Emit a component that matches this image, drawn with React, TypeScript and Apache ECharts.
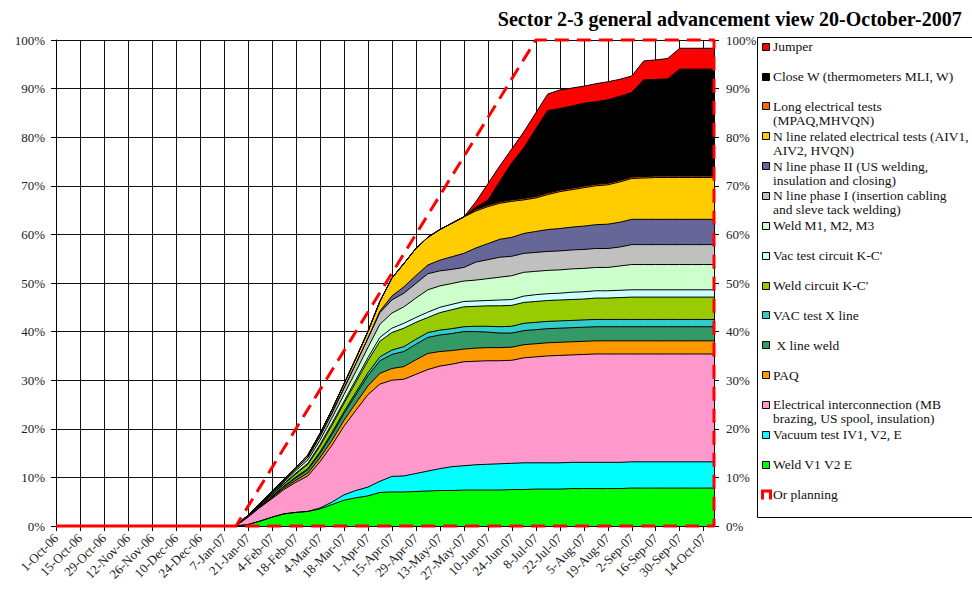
import React, { useEffect, useRef } from 'react';
import * as echarts from 'echarts';

// Day offsets from 1-Oct-06 (weekly reporting points, last = 20-Oct-07)
const dayOffsets = [0, 105, 112, 119, 126, 133, 140, 147, 154, 161, 168, 175, 182, 189, 196, 203, 210, 217, 224, 231, 238, 245, 252, 259, 266, 273, 280, 287, 294, 301, 308, 315, 322, 329, 336, 343, 350, 357, 364, 371, 378, 384];

// Tick labels every 14 days
const tickLabels = ['1-Oct-06', '15-Oct-06', '29-Oct-06', '12-Nov-06', '26-Nov-06', '10-Dec-06', '24-Dec-06', '7-Jan-07', '21-Jan-07', '4-Feb-07', '18-Feb-07', '4-Mar-07', '18-Mar-07', '1-Apr-07', '15-Apr-07', '29-Apr-07', '13-May-07', '27-May-07', '10-Jun-07', '24-Jun-07', '8-Jul-07', '22-Jul-07', '5-Aug-07', '19-Aug-07', '2-Sep-07', '16-Sep-07', '30-Sep-07', '14-Oct-07'];

// Series values (percent contribution), bottom of the stack first
const weldV1 = [0, 0, 0.3, 1.0, 1.8, 2.5, 2.8, 3.0, 3.5, 4.4, 5.3, 5.8, 6.2, 6.9, 7.0, 7.0, 7.1, 7.2, 7.3, 7.3, 7.4, 7.4, 7.4, 7.4, 7.5, 7.5, 7.6, 7.6, 7.6, 7.7, 7.7, 7.7, 7.7, 7.7, 7.8, 7.8, 7.8, 7.8, 7.8, 7.8, 7.8, 7.8];
const vacuumIV = [0, 0, 0, 0, 0, 0, 0, 0, 0.2, 0.5, 1.1, 1.5, 1.8, 2.3, 3.2, 3.3, 3.7, 4.1, 4.5, 4.9, 5.0, 5.2, 5.3, 5.4, 5.4, 5.5, 5.4, 5.4, 5.4, 5.4, 5.4, 5.4, 5.4, 5.4, 5.4, 5.4, 5.4, 5.4, 5.4, 5.4, 5.4, 5.4];
const elecInter = [0, 0, 1.5, 2.8, 3.8, 5.0, 6.2, 7.3, 9.5, 11.7, 14.1, 16.5, 19.0, 20.0, 19.8, 19.9, 20.4, 20.9, 21.1, 21.1, 21.4, 21.3, 21.3, 21.2, 21.2, 21.6, 21.8, 22.0, 22.1, 22.1, 22.2, 22.3, 22.3, 22.3, 22.2, 22.2, 22.2, 22.2, 22.2, 22.2, 22.2, 22.2];
const paq = [0, 0, 0.1, 0.1, 0.2, 0.3, 0.4, 0.6, 0.8, 1.0, 1.2, 1.5, 1.8, 2.2, 2.4, 2.6, 3.0, 3.3, 3.0, 2.8, 2.6, 2.7, 2.7, 2.7, 2.7, 2.7, 2.7, 2.7, 2.7, 2.7, 2.7, 2.7, 2.7, 2.7, 2.7, 2.7, 2.7, 2.7, 2.7, 2.7, 2.7, 2.7];
const xLineWeld = [0, 0, 0.1, 0.2, 0.2, 0.3, 0.5, 0.7, 0.9, 1.2, 1.4, 1.7, 2.1, 2.6, 2.9, 3.1, 3.2, 3.3, 3.4, 3.5, 3.6, 3.4, 3.2, 3.0, 2.9, 2.9, 2.9, 2.9, 2.9, 2.9, 2.9, 2.9, 2.9, 2.9, 2.9, 2.9, 2.9, 2.9, 2.9, 2.9, 2.9, 2.9];
const vacXLine = [0, 0, 0, 0, 0.1, 0.1, 0.2, 0.2, 0.3, 0.4, 0.4, 0.5, 0.6, 0.8, 0.9, 1.0, 1.0, 1.0, 1.0, 1.0, 1.0, 1.1, 1.2, 1.3, 1.4, 1.5, 1.5, 1.5, 1.5, 1.5, 1.5, 1.5, 1.5, 1.5, 1.5, 1.5, 1.5, 1.5, 1.5, 1.5, 1.5, 1.5];
const weldKC = [0, 0, 0.1, 0.2, 0.3, 0.4, 0.6, 0.9, 1.2, 1.5, 1.7, 2.1, 2.5, 3.2, 3.6, 3.8, 3.5, 3.1, 3.6, 3.9, 4.1, 4.1, 4.2, 4.3, 4.3, 4.3, 4.3, 4.3, 4.3, 4.3, 4.3, 4.4, 4.4, 4.5, 4.6, 4.6, 4.6, 4.6, 4.6, 4.6, 4.6, 4.6];
const vacKC = [0, 0, 0, 0.1, 0.1, 0.1, 0.2, 0.2, 0.3, 0.4, 0.4, 0.5, 0.6, 0.8, 0.9, 1.0, 1.0, 1.1, 1.1, 1.1, 1.1, 1.1, 1.1, 1.2, 1.2, 1.3, 1.4, 1.4, 1.4, 1.5, 1.5, 1.5, 1.5, 1.5, 1.5, 1.5, 1.5, 1.5, 1.5, 1.5, 1.5, 1.5];
const weldM = [0, 0, 0.1, 0.1, 0.2, 0.3, 0.5, 0.7, 0.9, 1.1, 1.4, 1.7, 2.1, 2.7, 3.1, 3.4, 4.0, 4.6, 4.4, 4.3, 4.2, 4.3, 4.5, 4.7, 4.9, 4.9, 4.8, 4.8, 4.8, 4.8, 4.8, 4.8, 4.8, 5.0, 5.2, 5.2, 5.2, 5.2, 5.2, 5.2, 5.2, 5.2];
const nPhase1 = [0, 0, 0, 0.1, 0.2, 0.3, 0.4, 0.6, 0.8, 1.0, 1.3, 1.6, 1.9, 2.4, 2.7, 2.8, 3.0, 3.3, 3.1, 2.9, 2.8, 3.7, 3.9, 4.1, 4.0, 3.9, 3.9, 3.9, 3.9, 3.9, 3.9, 3.9, 3.9, 3.9, 4.1, 4.1, 4.1, 4.1, 4.1, 4.1, 4.1, 4.1];
const nPhase2 = [0, 0, 0, 0, 0, 0, 0, 0, 0, 0, 0, 0, 0, 0.3, 0.8, 1.3, 1.6, 1.8, 2.2, 2.6, 2.9, 2.9, 3.3, 3.7, 3.9, 4.1, 4.3, 4.5, 4.6, 4.7, 4.8, 4.9, 5.0, 5.1, 5.2, 5.2, 5.2, 5.2, 5.2, 5.2, 5.2, 5.2];
const nLineElec = [0, 0, 0, 0.1, 0.2, 0.3, 0.3, 0.4, 0.6, 0.7, 0.9, 1.1, 1.4, 2.0, 3.7, 4.8, 5.6, 5.7, 6.3, 6.9, 7.5, 7.6, 7.6, 7.4, 7.4, 6.9, 6.9, 7.2, 7.6, 7.7, 7.9, 8.0, 8.1, 8.3, 8.4, 8.5, 8.6, 8.6, 8.6, 8.6, 8.6, 8.6];
const longElec = [0, 0, 0, 0, 0, 0, 0, 0, 0, 0, 0, 0, 0, 0, 0, 0, 0, 0, 0, 0, 0, 0.3, 0.3, 0.3, 0.3, 0.3, 0.3, 0.3, 0.3, 0.3, 0.3, 0.3, 0.3, 0.3, 0.3, 0.3, 0.3, 0.3, 0.3, 0.3, 0.3, 0.3];
const closeW = [0, 0, 0, 0, 0, 0, 0, 0, 0, 0, 0, 0, 0, 0, 0, 0, 0, 0, 0, 0, 0, 0.5, 1.0, 4.2, 7.6, 10.4, 13.9, 17.0, 16.8, 16.9, 17.1, 17.0, 17.2, 17.3, 17.4, 19.9, 19.9, 20.0, 22.0, 22.0, 22.0, 22.0];
const jumper = [0, 0, 0, 0, 0, 0, 0, 0, 0, 0, 0, 0, 0, 0, 0, 0, 0, 0, 0, 0, 0, 1.1, 3.4, 3.2, 2.9, 3.3, 3.3, 3.4, 3.8, 3.7, 3.5, 3.7, 3.7, 3.5, 3.4, 3.9, 4.0, 4.2, 4.3, 4.3, 4.3, 4.3];

// Planning outline (secondary axis), traced as the closed area border
const planDays = [0, 105, 280, 384, 384, 0];
const planValues = [0, 0, 100, 100, 0, 0];

const stackNames = [
  'Weld V1 V2 E',
  'Vacuum test IV1, V2, E',
  'Electrical interconnection (MB brazing, US spool, insulation)',
  'PAQ',
  ' X line weld',
  'VAC test X line',
  "Weld circuit K-C'",
  "Vac test circuit K-C'",
  'Weld M1, M2, M3',
  'N line phase I (insertion cabling and sleve tack welding)',
  'N line phase II (US welding, insulation and closing)',
  'N line related electrical tests (AIV1, AIV2, HVQN)',
  'Long electrical tests (MPAQ,MHVQN)',
  'Close W (thermometers MLI, W)',
  'Jumper',
];
const stackColors = ['#00FF00', '#00FFFF', '#FF99CC', '#FF9900', '#339966', '#33CCCC', '#99CC00', '#CCFFFF', '#CCFFCC', '#C0C0C0', '#666699', '#FFCC00', '#FF6600', '#000000', '#FF0000'];
const stackValues = [weldV1, vacuumIV, elecInter, paq, xLineWeld, vacXLine, weldKC, vacKC, weldM, nPhase1, nPhase2, nLineElec, longElec, closeW, jumper];

// Legend texts, top to bottom (as wrapped in the picture)
const legendLabels = [
  'Jumper',
  'Close W (thermometers MLI, W)',
  'Long electrical tests\n(MPAQ,MHVQN)',
  'N line related electrical tests (AIV1,\nAIV2, HVQN)',
  'N line phase II (US welding,\ninsulation and closing)',
  'N line phase I (insertion cabling\nand sleve tack welding)',
  'Weld M1, M2, M3',
  "Vac test circuit K-C'",
  "Weld circuit K-C'",
  'VAC test X line',
  ' X line weld',
  'PAQ',
  'Electrical interconnection (MB\nbrazing, US spool, insulation)',
  'Vacuum test IV1, V2, E',
  'Weld V1 V2 E',
  'Or planning',
];

const FONT = '"Liberation Serif", "Times New Roman", serif';

function buildOption() {
  // cumulative tops (what a stack computes)
  const cum: number[][] = [];
  stackValues.forEach((vals, k) => {
    cum.push(vals.map((v, i) => +(v + (k > 0 ? cum[k - 1][i] : 0)).toFixed(2)));
  });

  const series: any[] = [];
  // draw the top layer first so lower layers paint over it
  for (let k = stackValues.length - 1; k >= 0; k--) {
    series.push({
      type: 'line',
      name: stackNames[k],
      data: dayOffsets.map((d, i) => [d, cum[k][i]]),
      symbol: 'none',
      silent: true,
      lineStyle: { color: '#000', width: 1 },
      areaStyle: { color: stackColors[k], opacity: 1, origin: 'start' },
      z: 2,
    });
  }
  series.push({
    type: 'line',
    name: 'Or planning',
    yAxisIndex: 1,
    data: planDays.map((d, i) => [d, planValues[i]]),
    symbol: 'none',
    silent: true,
    clip: false,
    lineStyle: { color: '#FF0000', width: 3, type: [14, 8] },
    z: 5,
  });

  // legend drawn as graphics
  const legendColors = [...stackColors].reverse();
  const graphics: any[] = [
    {
      type: 'rect',
      shape: { x: 757.5, y: 37.5, width: 240, height: 480 },
      style: { fill: '#fff', stroke: '#000', lineWidth: 1 },
      z: 10,
    },
  ];
  legendLabels.forEach((lab, i) => {
    const cy = 46.7 + 29.85 * i;
    if (i < legendColors.length) {
      graphics.push({
        type: 'rect',
        shape: { x: 762.5, y: Math.round(cy - 4) + 0.5, width: 7, height: 7 },
        style: { fill: legendColors[i], stroke: '#000', lineWidth: 1 },
        z: 11,
      });
    } else {
      graphics.push({
        type: 'polyline',
        shape: { points: [[762.5, cy + 5], [762.5, cy - 3.5], [770.5, cy - 3.5], [770.5, cy + 5]] },
        style: { stroke: '#FF0000', lineWidth: 3, fill: 'none' },
        z: 11,
      });
    }
    graphics.push({
      type: 'text',
      x: 773,
      y: cy - 7,
      style: {
        text: lab,
        fill: '#111',
        font: '13.5px ' + FONT,
        lineHeight: 14,
        verticalAlign: 'top',
        align: 'left',
      },
      z: 11,
    });
  });

  const axisLabelStyle = { fontFamily: FONT, fontSize: 13, color: '#222' };

  return {
    animation: false,
    backgroundColor: '#fff',
    title: {
      text: 'Sector 2-3 general advancement view 20-October-2007',
      right: 10,
      top: 9,
      padding: 0,
      textStyle: { fontFamily: FONT, fontWeight: 'bold', fontSize: 20, color: '#000' },
    },
    grid: { left: 56, right: 258, top: 40, bottom: 70, containLabel: false },
    xAxis: {
      type: 'value',
      min: 0,
      max: 384,
      interval: 14,
      axisLine: { show: true, lineStyle: { color: '#000', width: 1 } },
      axisTick: { show: true, length: 5, lineStyle: { color: '#000' } },
      splitLine: { show: true, lineStyle: { color: '#111', width: 1 } },
      axisLabel: {
        ...axisLabelStyle,
        rotate: 45,
        margin: 10,
        showMaxLabel: false,
        formatter: (v: number) => (v % 14 === 0 ? tickLabels[v / 14] ?? '' : ''),
      },
    },
    yAxis: [
      {
        type: 'value',
        min: 0,
        max: 100,
        interval: 10,
        position: 'left',
        axisLine: { show: true, lineStyle: { color: '#000' } },
        axisTick: { show: true, length: 5, lineStyle: { color: '#000' } },
        splitLine: { show: true, lineStyle: { color: '#111', width: 1 } },
        axisLabel: { ...axisLabelStyle, margin: 11, formatter: '{value}%' },
      },
      {
        type: 'value',
        min: 0,
        max: 100,
        interval: 10,
        position: 'right',
        axisLine: { show: true, lineStyle: { color: '#000' } },
        axisTick: { show: true, length: 5, lineStyle: { color: '#000' } },
        splitLine: { show: false },
        axisLabel: { ...axisLabelStyle, margin: 12, formatter: '{value}%' },
      },
    ],
    series,
    graphic: graphics,
  };
}

export default function App() {
  const ref = useRef<HTMLDivElement>(null);
  useEffect(() => {
    if (!ref.current) return;
    const chart = echarts.init(ref.current, null, { renderer: 'svg' });
    chart.setOption(buildOption());
    return () => chart.dispose();
  }, []);
  return (
    <div
      ref={ref}
      style={{ position: 'fixed', left: 0, top: 0, width: 972, height: 596, background: '#fff' }}
    />
  );
}
